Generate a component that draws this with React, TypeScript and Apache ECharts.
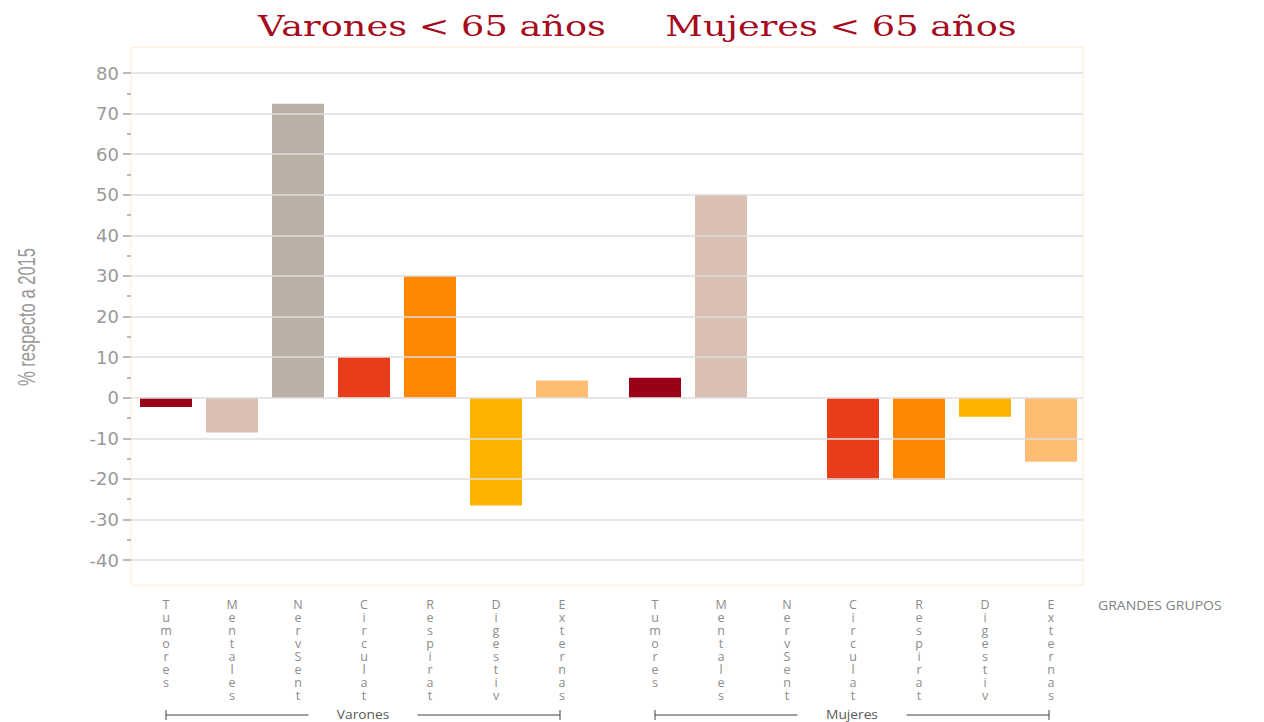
import React, { useEffect, useRef } from "react";
import * as echarts from "echarts";

const categories = ["Tumores", "Mentales", "NervSent", "Circulat", "Respirat", "Digestiv", "Externas"];
const varones = [-2.3, -8.6, 72.4, 10.0, 30.0, -26.6, 4.2];
const mujeres = [4.9, 50.0, 0, -20.2, -20.2, -4.7, -15.8];
const colors = ["#9a0018", "#d9c0b3", "#bab0a5", "#e83c1a", "#ff8800", "#ffb300", "#ffbd73"];
const yTicks = { min: -40, max: 80, interval: 10 };
const titles = ["Varones < 65 años", "Mujeres < 65 años"];
const groups = ["Varones", "Mujeres"];

export default function App() {
  const ref = useRef<HTMLDivElement>(null);
  useEffect(() => {
    const chart = echarts.init(ref.current!, null, { renderer: "svg" });
    const gridTop = 73;
    const gridH = 487;
    const barData = (vals: number[]) =>
      vals.map((v, i) => ({ value: v, itemStyle: { color: colors[i] } }));
    const catAxis = (gi: number) => ({
      type: "category",
      gridIndex: gi,
      data: categories,
      axisLine: { show: false },
      axisTick: { show: false },
      axisLabel: {
        interval: 0,
        margin: 38,
        color: "#8c8c8c",
        fontFamily: "Open Sans",
        fontSize: 12.5,
        lineHeight: 13,
        verticalAlign: "top",
        formatter: (s: string) => s.split("").join("\n"),
      },
    });
    const hiddenY = (gi: number) => ({
      type: "value",
      gridIndex: gi,
      min: yTicks.min,
      max: yTicks.max,
      interval: yTicks.interval,
      show: false,
      splitLine: { show: false },
    });
    const bracket = (x1: number, x2: number, label: string) => {
      const y = 714;
      const mid = (x1 + x2) / 2;
      const half = label.length * 5.5 + 16;
      return [
        { type: "line", shape: { x1, y1: y + 1, x2: mid - half, y2: y + 1 }, style: { stroke: "#404040", lineWidth: 1 } },
        { type: "line", shape: { x1: mid + half, y1: y + 1, x2, y2: y + 1 }, style: { stroke: "#404040", lineWidth: 1 } },
        { type: "line", shape: { x1, y1: y - 4, x2: x1, y2: y + 6 }, style: { stroke: "#404040", lineWidth: 1 } },
        { type: "line", shape: { x1: x2, y1: y - 4, x2, y2: y + 6 }, style: { stroke: "#404040", lineWidth: 1 } },
        {
          type: "text",
          x: mid,
          y: y,
          scaleX: 1.1,
          style: { text: label, fill: "#595959", font: "12.5px 'Open Sans'", align: "center", verticalAlign: "middle" },
        },
      ];
    };
    const titleText = (x: number, t: string) => ({
      type: "text",
      x,
      y: 27,
      scaleX: 1.36,
      style: { text: t, fill: "#a50d1e", font: "27px 'DejaVu Serif'", align: "center", verticalAlign: "middle" },
    });
    chart.setOption({
      animation: false,
      grid: [
        { left: 131, width: 952, top: gridTop, height: gridH },
        { left: 133, width: 462, top: gridTop, height: gridH },
        { left: 622, width: 462, top: gridTop, height: gridH },
      ],
      xAxis: [
        { type: "value", gridIndex: 0, show: false, min: 0, max: 1, splitLine: { show: false } },
        catAxis(1),
        catAxis(2),
      ],
      yAxis: [
        {
          type: "value",
          gridIndex: 0,
          min: yTicks.min,
          max: yTicks.max,
          interval: yTicks.interval,
          z: 5,
          axisLine: { show: false },
          axisTick: { show: true, length: 8, lineStyle: { color: "#a6a6a6", width: 1.5 } },
          minorTick: { show: true, splitNumber: 2, length: 4, lineStyle: { color: "#a6a6a6", width: 1.5 } },
          axisLabel: { color: "#999999", fontFamily: "DejaVu Sans", fontSize: 18, margin: 12 },
          splitLine: { show: true, lineStyle: { color: "#dedede", width: 1.5 } },
        },
        hiddenY(1),
        hiddenY(2),
      ],
      series: [
        { type: "bar", xAxisIndex: 1, yAxisIndex: 1, data: barData(varones), barWidth: 52 },
        { type: "bar", xAxisIndex: 2, yAxisIndex: 2, data: barData(mujeres), barWidth: 52 },
      ],
      graphic: [
        {
          type: "rect",
          shape: { x: 131, y: 47, width: 952, height: 538 },
          style: { fill: "none", stroke: "#fdecd2", lineWidth: 1 },
          silent: true,
        },
        titleText(432, titles[0]),
        titleText(841, titles[1]),
        {
          type: "text",
          x: 27,
          y: 317,
          rotation: Math.PI / 2,
          scaleX: 0.72,
          style: {
            text: "% respecto a 2015",
            fill: "#999999",
            font: "23px 'Liberation Sans'",
            align: "center",
            verticalAlign: "middle",
          },
        },
        {
          type: "text",
          x: 1098,
          y: 605,
          scaleX: 1.08,
          style: { text: "GRANDES GRUPOS", fill: "#7f7f7f", font: "13px 'Open Sans'", align: "left", verticalAlign: "middle" },
        },
        ...bracket(166, 560, groups[0]),
        ...bracket(655, 1049, groups[1]),
      ],
    });
    return () => chart.dispose();
  }, []);
  return (
    <div
      ref={ref}
      style={{ position: "absolute", left: 0, top: 0, width: 1264, height: 722, background: "#fff" }}
    />
  );
}
